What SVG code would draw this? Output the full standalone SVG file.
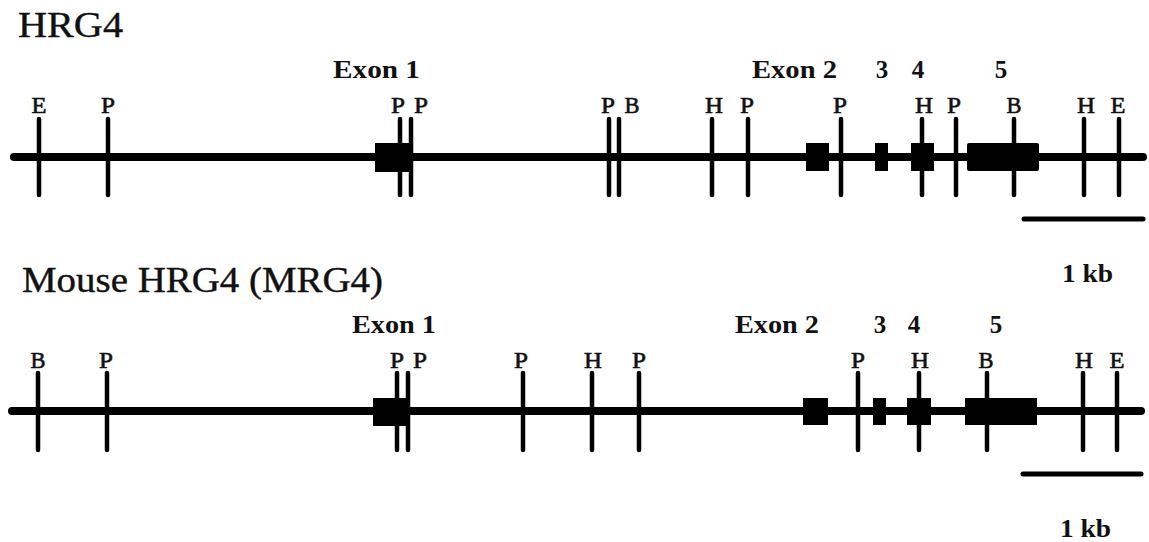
<svg xmlns="http://www.w3.org/2000/svg" width="1149" height="542" viewBox="0 0 1149 542">
  <style>
    .title { font-family: "Liberation Serif", "Times New Roman", serif; font-size: 36px; fill: #111; stroke: #111; stroke-width: 0.4; }
    .exon { font-family: "Liberation Serif", "Times New Roman", serif; font-size: 25px; font-weight: bold; fill: #111; }
    .site { font-family: "Liberation Serif", "Times New Roman", serif; font-size: 23px; fill: #111; stroke: #111; stroke-width: 0.6; text-anchor: middle; }
    .kb { font-family: "Liberation Serif", "Times New Roman", serif; font-size: 26px; font-weight: bold; fill: #111; }
    .backbone { stroke: #000; stroke-width: 8; stroke-linecap: round; fill: none; }
    .tick { stroke: #000; stroke-width: 4.5; stroke-linecap: round; fill: none; }
    .box { fill: #000; }
    .scale { stroke: #000; stroke-width: 5; stroke-linecap: round; fill: none; }
  </style>

  <!-- Human gene map -->
  <g id="hrg4">
    <text class="title" x="18" y="37" textLength="105" lengthAdjust="spacingAndGlyphs">HRG4</text>

    <g id="hrg4-exon-labels">
      <text class="exon" x="333" y="78" textLength="87" lengthAdjust="spacingAndGlyphs">Exon 1</text>
      <text class="exon" x="752" y="78" textLength="85" lengthAdjust="spacingAndGlyphs">Exon 2</text>
      <text class="exon" x="882" y="78" text-anchor="middle">3</text>
      <text class="exon" x="918" y="78" text-anchor="middle">4</text>
      <text class="exon" x="1001" y="78" text-anchor="middle">5</text>
    </g>

    <line class="backbone" x1="14" y1="157" x2="1143" y2="157"/>

    <g id="hrg4-exons">
      <rect class="box" x="375" y="143" width="38" height="29"/>
      <rect class="box" x="806" y="143" width="23" height="28"/>
      <rect class="box" x="875" y="143" width="13" height="28"/>
      <rect class="box" x="911" y="143" width="23" height="28"/>
      <rect class="box" x="967" y="143" width="72" height="28" rx="2"/>
    </g>

    <g id="hrg4-sites">
      <path class="tick" d="M39 119V195M108 119V195M400 119V195M411 119V195M609 119V195M619 119V195M712 119V195M748 119V195M841 119V195M922 119V195M956 119V195M1014 119V195M1084 119V195M1119 119V195"/>
      <text class="site" x="39" y="113" textLength="15" lengthAdjust="spacingAndGlyphs">E</text>
      <text class="site" x="108" y="113" textLength="14" lengthAdjust="spacingAndGlyphs">P</text>
      <text class="site" x="398" y="113" textLength="14" lengthAdjust="spacingAndGlyphs">P</text>
      <text class="site" x="421" y="113" textLength="14" lengthAdjust="spacingAndGlyphs">P</text>
      <text class="site" x="608" y="113" textLength="14" lengthAdjust="spacingAndGlyphs">P</text>
      <text class="site" x="632" y="113" textLength="15" lengthAdjust="spacingAndGlyphs">B</text>
      <text class="site" x="714" y="113" textLength="18" lengthAdjust="spacingAndGlyphs">H</text>
      <text class="site" x="747" y="113" textLength="14" lengthAdjust="spacingAndGlyphs">P</text>
      <text class="site" x="840" y="113" textLength="14" lengthAdjust="spacingAndGlyphs">P</text>
      <text class="site" x="924" y="113" textLength="18" lengthAdjust="spacingAndGlyphs">H</text>
      <text class="site" x="954" y="113" textLength="14" lengthAdjust="spacingAndGlyphs">P</text>
      <text class="site" x="1014" y="113" textLength="15" lengthAdjust="spacingAndGlyphs">B</text>
      <text class="site" x="1086" y="113" textLength="18" lengthAdjust="spacingAndGlyphs">H</text>
      <text class="site" x="1118" y="113" textLength="15" lengthAdjust="spacingAndGlyphs">E</text>
    </g>

    <g id="hrg4-scale">
      <line class="scale" x1="1024" y1="219" x2="1143" y2="219"/>
      <text class="kb" x="1062" y="282" textLength="51" lengthAdjust="spacingAndGlyphs">1 kb</text>
    </g>
  </g>

  <!-- Mouse gene map -->
  <g id="mrg4">
    <text class="title" x="22" y="292" textLength="361" lengthAdjust="spacingAndGlyphs">Mouse HRG4 (MRG4)</text>

    <g id="mrg4-exon-labels">
      <text class="exon" x="352" y="333" textLength="84" lengthAdjust="spacingAndGlyphs">Exon 1</text>
      <text class="exon" x="735" y="333" textLength="84" lengthAdjust="spacingAndGlyphs">Exon 2</text>
      <text class="exon" x="880" y="333" text-anchor="middle">3</text>
      <text class="exon" x="914" y="333" text-anchor="middle">4</text>
      <text class="exon" x="996" y="333" text-anchor="middle">5</text>
    </g>

    <line class="backbone" x1="12" y1="411" x2="1141" y2="411"/>

    <g id="mrg4-exons">
      <rect class="box" x="373" y="398" width="36" height="28"/>
      <rect class="box" x="803" y="398" width="25" height="27"/>
      <rect class="box" x="873" y="398" width="13" height="27"/>
      <rect class="box" x="907" y="398" width="24" height="27"/>
      <rect class="box" x="965" y="398" width="72" height="27"/>
    </g>

    <g id="mrg4-sites">
      <path class="tick" d="M38 373V450M107 373V450M397 373V450M408 373V450M523 373V450M592 373V450M639 373V450M858 373V450M919 373V450M987 373V450M1083 373V450M1117 373V450"/>
      <text class="site" x="38" y="368" textLength="15" lengthAdjust="spacingAndGlyphs">B</text>
      <text class="site" x="106" y="368" textLength="14" lengthAdjust="spacingAndGlyphs">P</text>
      <text class="site" x="397" y="368" textLength="14" lengthAdjust="spacingAndGlyphs">P</text>
      <text class="site" x="420" y="368" textLength="14" lengthAdjust="spacingAndGlyphs">P</text>
      <text class="site" x="521" y="368" textLength="14" lengthAdjust="spacingAndGlyphs">P</text>
      <text class="site" x="593" y="368" textLength="18" lengthAdjust="spacingAndGlyphs">H</text>
      <text class="site" x="639" y="368" textLength="14" lengthAdjust="spacingAndGlyphs">P</text>
      <text class="site" x="858" y="368" textLength="14" lengthAdjust="spacingAndGlyphs">P</text>
      <text class="site" x="920" y="368" textLength="18" lengthAdjust="spacingAndGlyphs">H</text>
      <text class="site" x="986" y="368" textLength="15" lengthAdjust="spacingAndGlyphs">B</text>
      <text class="site" x="1084" y="368" textLength="18" lengthAdjust="spacingAndGlyphs">H</text>
      <text class="site" x="1117" y="368" textLength="15" lengthAdjust="spacingAndGlyphs">E</text>
    </g>

    <g id="mrg4-scale">
      <line class="scale" x1="1023" y1="474" x2="1141" y2="474"/>
      <text class="kb" x="1060" y="537" textLength="51" lengthAdjust="spacingAndGlyphs">1 kb</text>
    </g>
  </g>
</svg>
